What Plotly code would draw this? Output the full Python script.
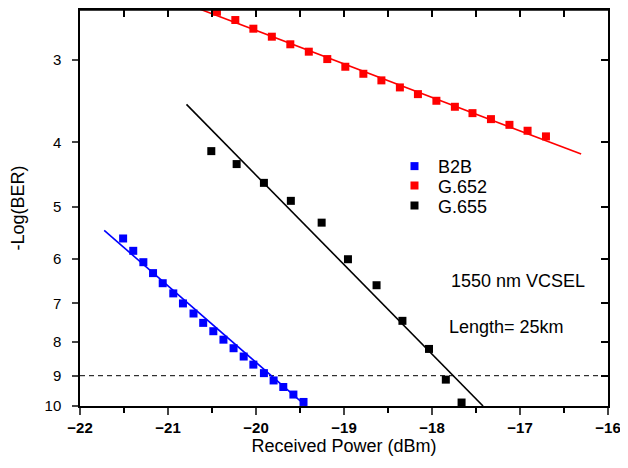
import plotly.graph_objects as go

# ---------------- data ----------------
b2b_power = [-21.51, -21.395, -21.28, -21.17, -21.06, -20.94, -20.83, -20.71, -20.60, -20.485,
             -20.37, -20.255, -20.14, -20.03, -19.91, -19.80, -19.69, -19.575, -19.46]
b2b_logber = [5.585, 5.83, 6.065, 6.30, 6.525, 6.76, 7.0, 7.25, 7.49, 7.71,
              7.94, 8.18, 8.42, 8.66, 8.92, 9.15, 9.36, 9.61, 9.86]

g652_power = [-20.444, -20.235, -20.03, -19.82, -19.61, -19.40, -19.19, -18.985, -18.78, -18.575,
              -18.365, -18.16, -17.95, -17.74, -17.54, -17.33, -17.12, -16.914, -16.705]
g652_logber = [2.539, 2.613, 2.693, 2.769, 2.843, 2.917, 2.993, 3.074, 3.150, 3.223,
               3.303, 3.381, 3.460, 3.533, 3.612, 3.688, 3.762, 3.840, 3.916]

g655_power = [-20.508, -20.22, -19.91, -19.604, -19.254, -18.955, -18.63, -18.336, -18.034, -17.843, -17.664]
g655_logber = [4.122, 4.312, 4.603, 4.90, 5.286, 6.003, 6.571, 7.437, 8.20, 9.124, 9.88]

# linear fit lines (end points)
b2b_fit_power = [-21.725, -19.43]
b2b_fit_logber = [5.43, 10.0]
g652_fit_power = [-20.668, -16.305]
g652_fit_logber = [2.507, 4.165]
g655_fit_power = [-20.79, -17.42]
g655_fit_logber = [3.504, 10.0]

threshold_power = [-22, -16]
threshold_logber = [9, 9]

y_ticks = [3, 4, 5, 6, 7, 8, 9, 10]
x_ticks = [-22, -21, -20, -19, -18, -17, -16]
x_half_ticks = [-22, -21.5, -21, -20.5, -20, -19.5, -19, -18.5, -18, -17.5, -17, -16.5, -16]

FONT = "Liberation Sans, Arial, sans-serif"
msize = 8

fig = go.Figure()

fig.add_trace(go.Scatter(x=threshold_power, y=threshold_logber, mode="lines",
                         line=dict(color="black", width=1, dash="5px,4px"),
                         showlegend=False, hoverinfo="skip"))

fig.add_trace(go.Scatter(x=b2b_fit_power, y=b2b_fit_logber, mode="lines",
                         line=dict(color="#0000ff", width=1.6), showlegend=False))
fig.add_trace(go.Scatter(x=g652_fit_power, y=g652_fit_logber, mode="lines",
                         line=dict(color="#ff0000", width=1.6), showlegend=False))
fig.add_trace(go.Scatter(x=g655_fit_power, y=g655_fit_logber, mode="lines",
                         line=dict(color="black", width=1.6), showlegend=False))

fig.add_trace(go.Scatter(x=b2b_power, y=b2b_logber, mode="markers", name="B2B", legend="legend",
                         marker=dict(symbol="square", size=msize, color="#0000ff")))
fig.add_trace(go.Scatter(x=g652_power, y=g652_logber, mode="markers", name="G.652", legend="legend2",
                         marker=dict(symbol="square", size=msize, color="#ff0000")))
fig.add_trace(go.Scatter(x=g655_power, y=g655_logber, mode="markers", name="G.655", legend="legend3",
                         marker=dict(symbol="square", size=msize, color="black")))

# invisible copies to activate the mirrored (top / right) tick axes
fig.add_trace(go.Scatter(x=threshold_power, y=threshold_logber, xaxis="x2", yaxis="y",
                         mode="lines", line=dict(width=0, color="rgba(0,0,0,0)"),
                         showlegend=False, hoverinfo="skip"))
fig.add_trace(go.Scatter(x=threshold_power, y=threshold_logber, xaxis="x", yaxis="y2",
                         mode="lines", line=dict(width=0, color="rgba(0,0,0,0)"),
                         showlegend=False, hoverinfo="skip"))

y_range = [1.0, 0.4020]
x_range = [-22, -16]

def leg(yc):
    return dict(x=0.589, y=yc, xanchor="left", yanchor="middle",
                font=dict(size=18, family=FONT), bgcolor="rgba(0,0,0,0)",
                itemwidth=37)

fig.update_layout(
    width=620, height=448,
    margin=dict(l=72, r=20, t=2, b=50.3),
    paper_bgcolor="white", plot_bgcolor="white",
    font=dict(family=FONT, color="black"),
    showlegend=True,
    legend=leg(0.605), legend2=leg(0.556), legend3=leg(0.5055),
    xaxis=dict(range=x_range, tickvals=x_ticks, ticks="outside", ticklen=7, tickwidth=1.5,
               showline=True, mirror=True, linecolor="black", linewidth=1.5, showgrid=False, zeroline=False,
               tickfont=dict(size=15, family=FONT, weight="bold"),
               ticklabeloverflow="allow",
               minor=dict(tickvals=x_half_ticks, ticks="outside", ticklen=5, tickwidth=1.5, tickcolor="black"),
               title=dict(text="Received Power (dBm)", font=dict(size=18, family=FONT), standoff=11),
               automargin=False),
    yaxis=dict(type="log", range=y_range, tickvals=y_ticks, ticktext=[str(v) for v in y_ticks],
               ticks="outside", ticklen=6, tickwidth=1.5, ticklabelstandoff=8,
               showline=True, mirror=True, linecolor="black", linewidth=1.5, showgrid=False, zeroline=False,
               tickfont=dict(size=15, family=FONT),
               title=dict(text="-Log(BER)", font=dict(size=18, family=FONT), standoff=20),
               automargin=False),
    xaxis2=dict(overlaying="x", side="top", anchor="y", range=x_range, tickvals=x_half_ticks,
                ticks="inside", ticklen=7, tickwidth=1.5, tickcolor="black", showticklabels=False,
                showline=True, linecolor="black", linewidth=1.5, showgrid=False, zeroline=False),
    yaxis2=dict(overlaying="y", side="right", anchor="x", type="log", range=y_range, tickvals=y_ticks,
                ticks="inside", ticklen=7, tickwidth=1.5, tickcolor="black", showticklabels=False,
                showline=False, showgrid=False, zeroline=False),
    shapes=[
        dict(type="line", xref="paper", yref="paper", x0=0, x1=1, y0=1, y1=1,
             line=dict(color="black", width=1.5), layer="above"),
    ],
    annotations=[
        dict(text="1550 nm VCSEL", xref="paper", yref="paper", x=0.6994, y=0.3151,
             xanchor="left", yanchor="middle", showarrow=False, font=dict(size=18, family=FONT)),
        dict(text="Length= 25km", xref="paper", yref="paper", x=0.695, y=0.1996,
             xanchor="left", yanchor="middle", showarrow=False, font=dict(size=18, family=FONT)),
    ],
)

fig.write_html("out.html")
